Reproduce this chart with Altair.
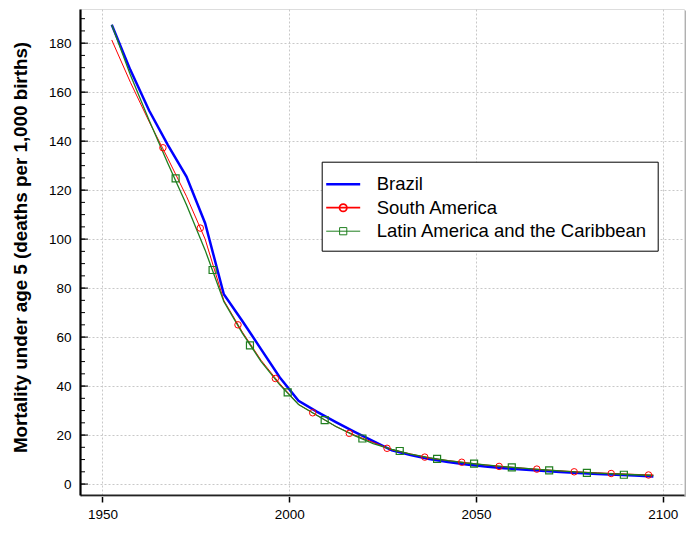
import altair as alt
import pandas as pd

# ---- data ----
years = [1952.5, 1957.5, 1962.5, 1967.5, 1972.5, 1977.5, 1982.5, 1987.5, 1992.5, 1997.5,
         2002.5, 2007.5, 2012.5, 2017.5, 2022.5, 2027.5, 2032.5, 2037.5, 2042.5, 2047.5,
         2052.5, 2057.5, 2062.5, 2067.5, 2072.5, 2077.5, 2082.5, 2087.5, 2092.5, 2097.5]
brazil = [187.5, 169, 152.5, 138.5, 125.5, 106.5, 77.5, 66.5, 55, 43.5,
          34, 29.5, 25.3, 21.3, 17.5, 13.8, 11.8, 10.2, 9.0, 8.0,
          7.2, 6.5, 5.9, 5.4, 4.9, 4.5, 4.1, 3.8, 3.5, 3.1]
south_america = [181.3, 164, 148, 133, 117.5, 100, 75, 62, 50.5, 41,
                 32.5, 28, 23.5, 20, 17, 14, 12.3, 10.6, 9.6, 8.7,
                 7.8, 7.1, 6.5, 5.9, 5.4, 4.95, 4.6, 4.25, 3.95, 3.7]
lac = [187.5, 167, 148.5, 131, 114, 95.5, 74.5, 61.5, 50, 40.5,
       32.5, 28, 23.5, 19.8, 16.5, 14.2, 12.2, 10.8, 9.6, 8.6,
       7.8, 7.1, 6.5, 5.9, 5.4, 4.9, 4.5, 4.1, 3.8, 3.5]

sa_marker_years = [1966.2, 1976.2, 1986.3, 1996.3, 2006.3, 2016.1, 2026.2, 2036.3,
                   2046.2, 2056.2, 2066.3, 2076.3, 2086.2, 2096.2]
sa_marker_vals = [137.3, 104.5, 65, 43.1, 29.1, 20.7, 14.6, 11.0, 8.9, 7.2, 6.1, 5.0, 4.3, 3.7]
lac_marker_years = [1969.6, 1979.5, 1989.5, 1999.6, 2009.5, 2019.6, 2029.6, 2039.6,
                    2049.5, 2059.6, 2069.6, 2079.7, 2089.6]
lac_marker_vals = [124.8, 87.4, 56.6, 37.4, 26.1, 18.6, 13.5, 10.3, 8.3, 6.8, 5.6, 4.6, 3.8]

series_names = ["Brazil", "South America", "Latin America and the Caribbean"]
series_colors = ["#0000ff", "#ff0000", "#1f7f1f"]
series_widths = [2.5, 1.0, 1.3]

x_ticks = [1950, 2000, 2050, 2100]
y_ticks = [0, 20, 40, 60, 80, 100, 120, 140, 160, 180]
y_minor = list(range(0, 195, 5))

FONT = "Liberation Sans, Arial, sans-serif"
W, H = 604, 486

xscale = alt.Scale(domain=[1944, 2105.7], nice=False, zero=False)
yscale = alt.Scale(domain=[-4.47, 193.95], nice=False, zero=False)
xaxis = alt.Axis(values=x_ticks, format="d", title=None, grid=True, gridColor="#c8c8c8",
                 gridDash=[2, 2], gridWidth=1, tickSize=7, tickColor="black", tickWidth=1.5,
                 domainColor="#222222", domainWidth=2, labelFont=FONT, labelFontSize=13.5,
                 labelColor="black", labelPadding=5)
yaxis = alt.Axis(values=y_ticks, title="Mortality under age 5 (deaths per 1,000 births)",
                 grid=True, gridColor="#c8c8c8", gridDash=[2, 2], gridWidth=1,
                 ticks=False, tickSize=0, domainColor="black", domainWidth=2.2,
                 labelFont=FONT, labelFontSize=13.5, labelColor="black", labelPadding=9,
                 titleFont=FONT, titleFontSize=18.8, titleFontWeight="bold", titleColor="black",
                 titleAngle=270, titleX=-60, titleY=238, titleAlign="center",
                 titleBaseline="middle")

X = lambda f: alt.X(f, type="quantitative", scale=xscale, axis=xaxis)
Y = lambda f: alt.Y(f, type="quantitative", scale=yscale, axis=yaxis)

def line_df(vals):
    return pd.DataFrame({"year": years, "value": vals})

# inward minor / major ticks on the y axis
minor_df = pd.DataFrame({"t": y_minor})
major_df = pd.DataFrame({"t": y_ticks})
minor_ticks = alt.Chart(minor_df).mark_rule(color="black", strokeWidth=1).encode(
    y=Y("t"), x=alt.value(0), x2=alt.value(5))
major_ticks = alt.Chart(major_df).mark_rule(color="black", strokeWidth=1).encode(
    y=Y("t"), x=alt.value(0), x2=alt.value(8))

# frame shadow (right and bottom)
shadow_r = alt.Chart(pd.DataFrame({"k": [0]})).mark_rule(color="#b0b0b0", strokeWidth=1).encode(
    x=alt.value(W + 1.5), y=alt.value(1.5), y2=alt.value(H + 1.5))
shadow_b = alt.Chart(pd.DataFrame({"k": [0]})).mark_rule(color="#b0b0b0", strokeWidth=1).encode(
    y=alt.value(H + 1.5), x=alt.value(1.5), x2=alt.value(W + 1.5))

blue = alt.Chart(line_df(brazil)).mark_line(color=series_colors[0], strokeWidth=series_widths[0]).encode(
    x=X("year"), y=Y("value"))
red = alt.Chart(line_df(south_america)).mark_line(color=series_colors[1], strokeWidth=series_widths[1]).encode(
    x=X("year"), y=Y("value"))
green = alt.Chart(line_df(lac)).mark_line(color=series_colors[2], strokeWidth=series_widths[2]).encode(
    x=X("year"), y=Y("value"))

red_pts = alt.Chart(pd.DataFrame({"year": sa_marker_years, "value": sa_marker_vals})).mark_point(
    shape="circle", size=42, color=series_colors[1], filled=False, strokeWidth=1, opacity=1).encode(
    x=X("year"), y=Y("value"))
green_pts = alt.Chart(pd.DataFrame({"year": lac_marker_years, "value": lac_marker_vals})).mark_point(
    shape="square", size=49, color=series_colors[2], filled=False, strokeWidth=1.2, opacity=1).encode(
    x=X("year"), y=Y("value"))

# legend (symbol = line with marker, drawn as custom paths)
u = 11.0
half = 17.0 / u
r = 3.7 / u
s = 3.6 / u
paths = [
    f"M{-half:.3f},0L{half:.3f},0",
    f"M{-half:.3f},0L{half:.3f},0M{r:.3f},0A{r:.3f},{r:.3f},0,1,1,{-r:.3f},0A{r:.3f},{r:.3f},0,1,1,{r:.3f},0Z",
    f"M{-half:.3f},0L{half:.3f},0M{-s:.3f},{-s:.3f}L{s:.3f},{-s:.3f}L{s:.3f},{s:.3f}L{-s:.3f},{s:.3f}Z",
]
leg = alt.Legend(orient="none", legendX=241.7, legendY=152.7, title=None, padding=10,
                 strokeColor="black", fillColor="white", labelFont=FONT, labelFontSize=18.5,
                 labelColor="black", labelLimit=500, symbolSize=(2 * u) ** 2, rowPadding=2,
                 labelOffset=21, symbolOffset=-1, symbolFillColor="transparent")
legend_df = pd.DataFrame({"series": series_names, "v": [0, 0, 0]})
legend_layer = alt.Chart(legend_df).transform_filter("datum.v > 1").mark_point(
    filled=False, opacity=1).encode(
    x=X("v"), y=Y("v"),
    color=alt.Color("series:N", scale=alt.Scale(domain=series_names, range=series_colors), legend=leg),
    shape=alt.Shape("series:N", scale=alt.Scale(domain=series_names, range=paths), legend=leg),
    strokeWidth=alt.StrokeWidth("series:N", scale=alt.Scale(domain=series_names, range=series_widths),
                                legend=leg),
)

chart = alt.layer(minor_ticks, major_ticks, shadow_r, shadow_b, blue, red, green, red_pts, green_pts,
                  legend_layer).properties(
    width=W, height=H,
    padding={"left": 72, "top": 1, "right": 5, "bottom": 28},
    autosize=alt.AutoSizeParams(type="none"),
).configure_view(stroke="#333333", strokeWidth=1.4).configure(background="white")

chart.save("out.html", embed_options={"renderer": "svg", "actions": False})
